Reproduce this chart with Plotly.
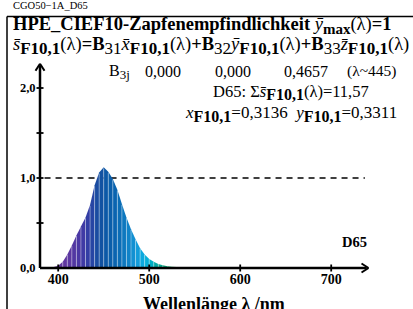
import plotly.graph_objects as go

# ---- data ----
wavelengths = [380, 385, 390, 395, 400, 405, 410, 415, 420, 425, 430, 435, 440, 445, 450,
               455, 460, 465, 470, 475, 480, 485, 490, 495, 500, 505, 510, 515, 520, 525,
               530, 535, 540, 545, 550]
values = [0.0, 0.001, 0.004, 0.01, 0.025, 0.07, 0.15, 0.25, 0.36, 0.46, 0.56, 0.70, 0.92, 1.06, 1.12,
          1.07, 0.99, 0.87, 0.71, 0.56, 0.43, 0.32, 0.22, 0.15, 0.10, 0.07, 0.045, 0.03, 0.02, 0.015,
          0.01, 0.007, 0.005, 0.003, 0.002]
x_ticks = [400, 500, 600, 700]
x_ticklabels = ["400", "500", "600", "700"]
y_ticks = [0.0, 0.5, 1.0, 1.5, 2.0]
y_ticklabels = ["0,0", "", "1,0", "", "2,0"]
b3j = ["0,000", "0,000", "0,4657"]

# spectral colour anchors (style)
color_anchors = [(380, (110, 60, 150)), (410, (95, 55, 160)), (425, (70, 55, 165)),
                 (435, (45, 65, 165)), (445, (20, 80, 160)), (455, (10, 90, 168)),
                 (465, (10, 104, 178)), (475, (15, 125, 195)), (485, (20, 150, 215)),
                 (495, (10, 175, 225)), (502, (0, 175, 200)), (510, (0, 165, 150)),
                 (520, (20, 165, 115)), (535, (60, 170, 80)), (550, (100, 175, 60))]


def spec_color(w):
    for (w0, c0), (w1, c1) in zip(color_anchors[:-1], color_anchors[1:]):
        if w0 <= w <= w1:
            t = (w - w0) / (w1 - w0)
            c = [round(a + (b - a) * t) for a, b in zip(c0, c1)]
            return "rgb(%d,%d,%d)" % tuple(c)
    return "rgb(%d,%d,%d)" % color_anchors[-1][1]


W, H = 413, 309
PX_PER_NM = 0.91
PX_PER_UNIT = 90.0
X_ORIGIN_PX, Y_ORIGIN_PX = 40, 268
XR = [374, 746]
YR = [-0.06, 2.32]


def px(x):
    return x / W


def py(y):
    return (H - y) / H


def xd(v):  # data -> paper fraction
    return px(X_ORIGIN_PX + (v - 380) * PX_PER_NM)


def yd(v):
    return py(Y_ORIGIN_PX - v * PX_PER_UNIT)


x_dom = [xd(XR[0]), xd(XR[1])]
y_dom = [yd(YR[0]), yd(YR[1])]

fig = go.Figure()

# coloured segments
for i in range(len(wavelengths) - 1):
    xa, xb = wavelengths[i], wavelengths[i + 1]
    ya, yb = values[i], values[i + 1]
    fig.add_trace(go.Scatter(x=[xa, xa, xb, xb, xa], y=[0, ya, yb, 0, 0], fill="toself",
                             fillcolor=spec_color((xa + xb) / 2), mode="lines",
                             line=dict(width=0), hoverinfo="skip", showlegend=False))

# thin white separators
sx, sy = [], []
for w, v in zip(wavelengths[1:-1], values[1:-1]):
    if v > 0.02:
        sx += [w, w, None]
        sy += [0, v * 0.985, None]
fig.add_trace(go.Scatter(x=sx, y=sy, mode="lines", line=dict(color="rgba(255,255,255,0.55)", width=0.7),
                         hoverinfo="skip", showlegend=False))

font_serif = "Liberation Serif, Times New Roman, serif"

fig.update_layout(
    width=W, height=H, autosize=False,
    margin=dict(l=0, r=0, t=0, b=0, autoexpand=False),
    paper_bgcolor="white", plot_bgcolor="rgba(0,0,0,0)",
    xaxis=dict(domain=x_dom, range=XR, showgrid=False, zeroline=False, showline=False,
               tickvals=x_ticks, ticktext=x_ticklabels, ticks="",
               tickfont=dict(family=font_serif, size=14, color="black", weight="bold"),
               ticklabelstandoff=-4),
    yaxis=dict(domain=y_dom, range=YR, showgrid=False, zeroline=False, showline=False,
               tickvals=y_ticks, ticktext=y_ticklabels, ticks="",
               tickfont=dict(family=font_serif, size=12.5, color="black", weight="bold"),
               ticklabelstandoff=-2),
)

# dashed line at 1.0
fig.add_shape(type="line", xref="x", yref="y", x0=385, x1=737, y0=1.0, y1=1.0,
              line=dict(color="black", width=1.5, dash="6px,5px"), layer="below")


def pline(x0, y0, x1, y1, w=2.5):
    fig.add_shape(type="line", xref="paper", yref="paper", x0=x0, x1=x1, y0=y0, y1=y1,
                  line=dict(color="black", width=w))


# axes (paper shapes placed through the same data->pixel scale)
pline(xd(380), yd(0), xd(739), yd(0))
pline(xd(380), yd(0), xd(380), yd(2.25))
# tick marks
for t in x_ticks:
    pline(xd(t), yd(0) - 3.5 / H, xd(t), yd(0) + 3.5 / H, 1.8)
for t in y_ticks[1:]:
    pline(xd(380) - 3.5 / W, yd(t), xd(380) + 3.5 / W, yd(t), 1.8)
# arrow heads
pline(xd(741) - 7 / W, yd(0) + 4.5 / H, xd(741), yd(0), 2)
pline(xd(741) - 7 / W, yd(0) - 4.5 / H, xd(741), yd(0), 2)
pline(xd(380) - 4.5 / W, yd(2.27) - 7 / H, xd(380), yd(2.27), 2)
pline(xd(380) + 4.5 / W, yd(2.27) - 7 / H, xd(380), yd(2.27), 2)

# frame
pline(px(7), py(16.5), px(413), py(16.5), 1.5)
pline(px(7), py(16.5), px(7), py(309), 1.5)


def txt(x, y, s, size=13, anchor="left", color="black"):
    fig.add_annotation(x=px(x), y=py(y), xref="paper", yref="paper", text=s, showarrow=False,
                       xanchor=anchor, yanchor="middle", borderpad=0,
                       font=dict(family=font_serif, size=size, color=color))


def bsub(s, size):
    return '<sub><b><span style="font-size:%dpx">%s</span></b></sub>' % (size, s)


def nsub(s, size):
    return '<sub><span style="font-size:%dpx">%s</span></sub>' % (size, s)


xb = "<i>x\u0304</i>"
yb = "<i>\u0233</i>"
zb = "<i>z\u0304</i>"
sb = "<i>s\u0304</i>"

txt(12, 5, "CGO50\u22121A_D65", size=10.5)
txt(12, 25, "<b>HPE_CIEF10-Zapfenempfindlichkeit </b>" + yb + bsub("max", 15) + "(\u03bb)<b>=1</b>", size=18.5)
s2 = bsub("F10,1", 17)
txt(12, 46, sb + s2 + "(\u03bb)<b>=B</b>" + nsub("31", 17) + xb + s2
    + "(\u03bb)<b>+B</b>" + nsub("32", 17) + yb + s2
    + "(\u03bb)<b>+B</b>" + nsub("33", 17) + zb + s2 + "(\u03bb)", size=18.5)
txt(108, 72, "B" + nsub("3j", 13), size=16)
txt(144, 71, b3j[0], size=16)
txt(214, 71, b3j[1], size=16)
txt(283, 71, b3j[2], size=16)
txt(346, 71, "(\u03bb~445)", size=15.5)
s3 = bsub("F10,1", 16)
txt(212, 92, "D65: \u03a3" + sb + s3 + "(\u03bb)=11,57", size=16.5)
txt(184, 114, "<i>x</i>" + s3 + "=0,3136  <i>y</i>" + s3 + "=0,3311", size=17)
txt(341, 242, "<b>D65</b>", size=14.5)
txt(214, 304, "<b>Wellenlänge \u03bb /nm</b>", size=18, anchor="center")

fig.write_html("out.html", config={"displayModeBar": False},
               post_script="document.body.style.margin='0';document.body.style.padding='0';")
